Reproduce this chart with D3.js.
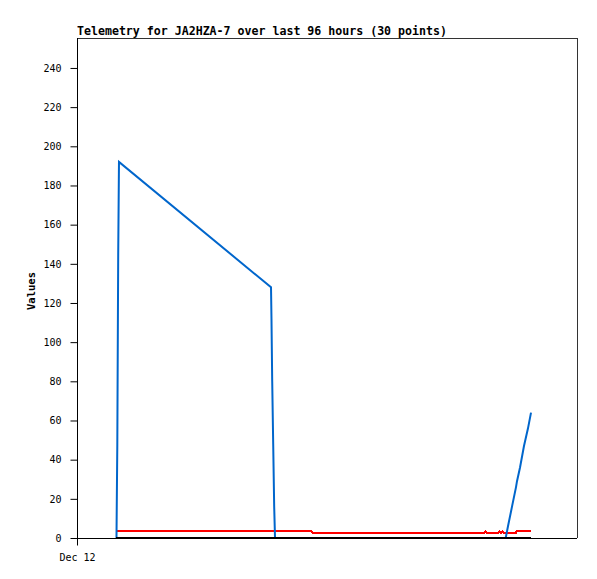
<!DOCTYPE html>
<html><head><meta charset="utf-8">
<script src="https://cdn.jsdelivr.net/npm/d3@7"></script>
<style>body{margin:0;background:#fff}</style>
</head><body>
<script>
// hours since Dec 12 00:00
const times = [7.58,7.74,7.91,8.06,37.25,37.34,37.48,37.67,37.86,38.02,45.02,45.22,62.02,78.14,78.43,78.72,80.83,81.12,81.41,81.70,81.98,82.31,82.75,83.52,84.29,84.48,85.06,85.82,86.59,87.17];
const blueVals = [0,48,144,192,128,112,80,48,16,0,0,0,0,0,0,0,0,0,0,0,0,0,6,16,26,29,36,47,56,64];
const redVals = [3.7,3.7,3.7,3.7,3.7,3.7,3.7,3.7,3.7,3.7,3.7,2.7,2.7,2.7,3.5,2.7,2.7,3.5,2.7,3.5,2.7,2.7,2.7,2.7,2.7,3.7,3.7,3.7,3.7,3.7];
const blackVals = new Array(30).fill(0);
const yTicks = [0,20,40,60,80,100,120,140,160,180,200,220,240];
const xTickLabels = ["Dec 12"];
const xTickHours = [0];
const title = "Telemetry for JA2HZA-7 over last 96 hours (30 points)";

const W = 597, H = 579;
const L = 77, R = 577, T = 38, B = 538;
const svg = d3.select("body").append("svg").attr("width", W).attr("height", H);
const x = d3.scaleLinear().domain([0, 96]).range([L, R]);
const y = d3.scaleLinear().domain([0, 255.3]).range([B, T]);

// frame
svg.append("line").attr("x1", L).attr("x2", R).attr("y1", T+0.5).attr("y2", T+0.5).attr("stroke", "#333");
svg.append("line").attr("x1", R+0.5).attr("x2", R+0.5).attr("y1", T).attr("y2", B).attr("stroke", "#333");

// y axis
const ya = d3.axisLeft(y).tickValues(yTicks).tickSize(7).tickPadding(9).tickFormat(d3.format("d"));
const yg = svg.append("g").attr("transform", `translate(${L+0.5},0)`).call(ya);
yg.select(".domain").remove();
yg.selectAll("text").attr("font-family", "DejaVu Sans Mono").attr("font-size", "10px").attr("fill", "#000");
yg.selectAll("line").attr("stroke", "#000");
svg.append("line").attr("x1", L+0.5).attr("x2", L+0.5).attr("y1", T).attr("y2", B+7).attr("stroke", "#000");

// x axis
const xa = d3.axisBottom(x).tickValues(xTickHours).tickSize(7).tickPadding(8).tickFormat((d,i) => xTickLabels[i]);
const xg = svg.append("g").attr("transform", `translate(0,${B+0.5})`).call(xa);
xg.select(".domain").remove();
xg.selectAll("text").attr("font-family", "DejaVu Sans Mono").attr("font-size", "10px").attr("fill", "#000");
xg.selectAll("line").attr("stroke", "#000");
svg.append("line").attr("x1", L).attr("x2", R).attr("y1", B+0.5).attr("y2", B+0.5).attr("stroke", "#000");

// series
const line = vals => d3.line().x((d,i) => x(times[i])).y((d,i) => y(vals[i]))(vals);
svg.append("path").attr("d", line(redVals)).attr("fill", "none").attr("stroke", "#ff0000").attr("stroke-width", 2).attr("shape-rendering", "crispEdges");
svg.append("path").attr("d", line(blueVals)).attr("fill", "none").attr("stroke", "#0066cc").attr("stroke-width", 2);
svg.append("path").attr("d", line(blackVals)).attr("fill", "none").attr("stroke", "#000").attr("stroke-width", 2).attr("shape-rendering", "crispEdges");

// title
svg.append("text").attr("x", L).attr("y", 35).attr("font-family", "DejaVu Sans Mono").attr("font-weight", "bold").attr("font-size", "11.6px").text(title);
// y label
svg.append("text").attr("transform", `translate(35,${(T+B)/2+3}) rotate(-90)`).attr("text-anchor", "middle")
  .attr("font-family", "DejaVu Sans Mono").attr("font-weight", "bold").attr("font-size", "10.5px").text("Values");
</script>
</body></html>
